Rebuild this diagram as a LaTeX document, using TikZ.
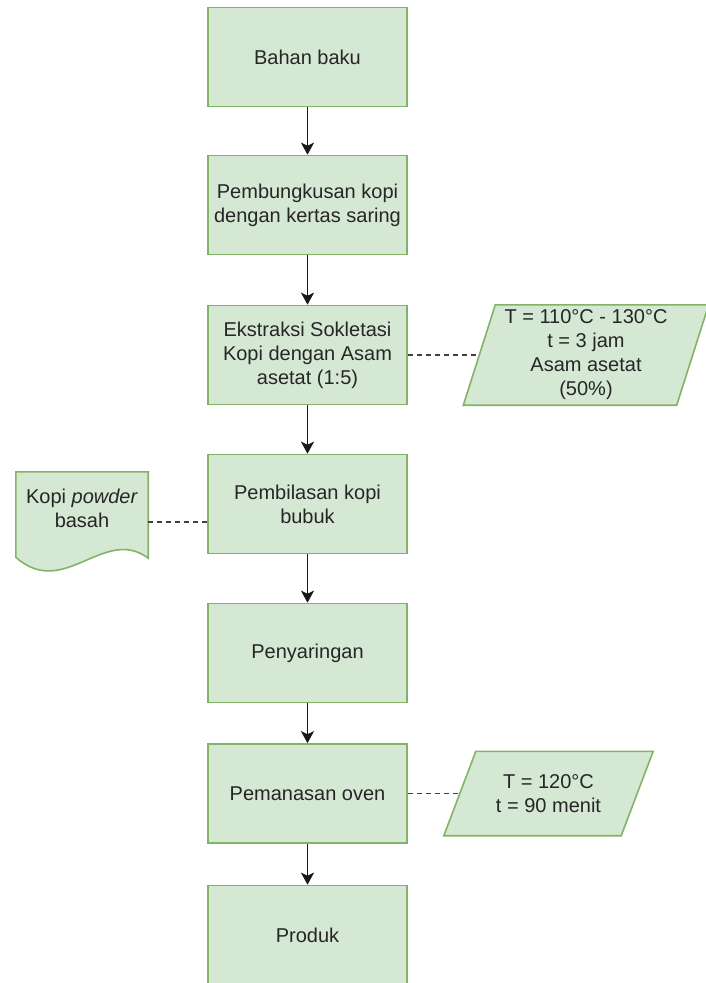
\documentclass[tikz,border=0pt]{standalone}
\usepackage{fontspec}
\setmainfont{Liberation Sans}
\usepackage{xcolor}
\usetikzlibrary{arrows.meta,positioning,backgrounds}
\definecolor{hijau}{HTML}{D5E8D4}
\definecolor{garis}{HTML}{82B366}

\begin{document}
\begin{tikzpicture}[x=1pt, y=1pt,
  node distance=48.4pt,
  font=\fontsize{20}{24}\selectfont, text=black!85,
  proses/.style={draw=garis, fill=hijau, line width=1.6pt, align=center,
                 minimum width=199pt, minimum height=99pt, inner sep=0pt},
  kondisi/.style={align=center, minimum height=100pt, inner sep=0pt},
  jajar/.style={draw=garis, fill=hijau, line width=1.6pt},
  dok/.style={minimum width=132pt, minimum height=100pt, inner sep=0pt},
  ar/.style={-{Stealth[length=12pt, width=13pt, inset=3pt]}, line width=1.8pt, black!90},
  putus/.style={dash pattern=on 5pt off 4pt, line width=1.4pt, black!75}]
\useasboundingbox (0,0) rectangle (705,-983);
\node[proses] (bahan) at (307.5,-57) {Bahan baku};
\node[proses, below=47.4pt of bahan] (bungkus) {Pembungkusan kopi\\dengan kertas saring};
\node[proses, below=49.4pt of bungkus] (ekstraksi) {Ekstraksi Sokletasi\\Kopi dengan Asam\\asetat (1:5)};
\node[proses, below=of ekstraksi] (bilas) {Pembilasan kopi\\bubuk};
\node[proses, below=of bilas] (saring) {Penyaringan};
\node[proses, below=39.9pt of saring] (oven) {Pemanasan oven};
\node[proses, below=40.9pt of oven] (produk) {Produk};
\node[kondisi, minimum width=213pt, right=71.5pt of ekstraksi] (kond1) {T = 110°C - 130°C\\t = 3 jam\\Asam asetat\\(50\%)};
\node[kondisi, minimum width=177pt, minimum height=84pt, right=52pt of oven] (kond2) {T = 120°C\\t = 90 menit};
\node[dok, left=59pt of bilas, yshift=-18pt, label={[align=center, yshift=14pt]center:Kopi \textit{powder}\\basah}] (limbah) {};
\begin{scope}[on background layer]
  \foreach \k in {kond1,kond2}{\filldraw[jajar] ([xshift=16pt]\k.north west) -- ([xshift=16pt]\k.north east)
    -- ([xshift=-16pt]\k.south east) -- ([xshift=-16pt]\k.south west) -- cycle;}
  \filldraw[jajar] (limbah.north west) -- (limbah.north east) -- ([yshift=14pt]limbah.south east)
    .. controls ([xshift=-44pt,yshift=47pt]limbah.south east) and ([xshift=48pt,yshift=-28pt]limbah.south west)
    .. ([yshift=15pt]limbah.south west) -- cycle;
\end{scope}
\foreach \a/\b in {bahan/bungkus,bungkus/ekstraksi,ekstraksi/bilas,bilas/saring,saring/oven,oven/produk}
  {\draw[ar] (\a) -- (\b);}
\draw[putus] (ekstraksi) -- (kond1);
\draw[putus] (oven) -- (kond2);
\draw[putus] (limbah.east) -- (limbah.east -| bilas.west);
\end{tikzpicture}
\end{document}
